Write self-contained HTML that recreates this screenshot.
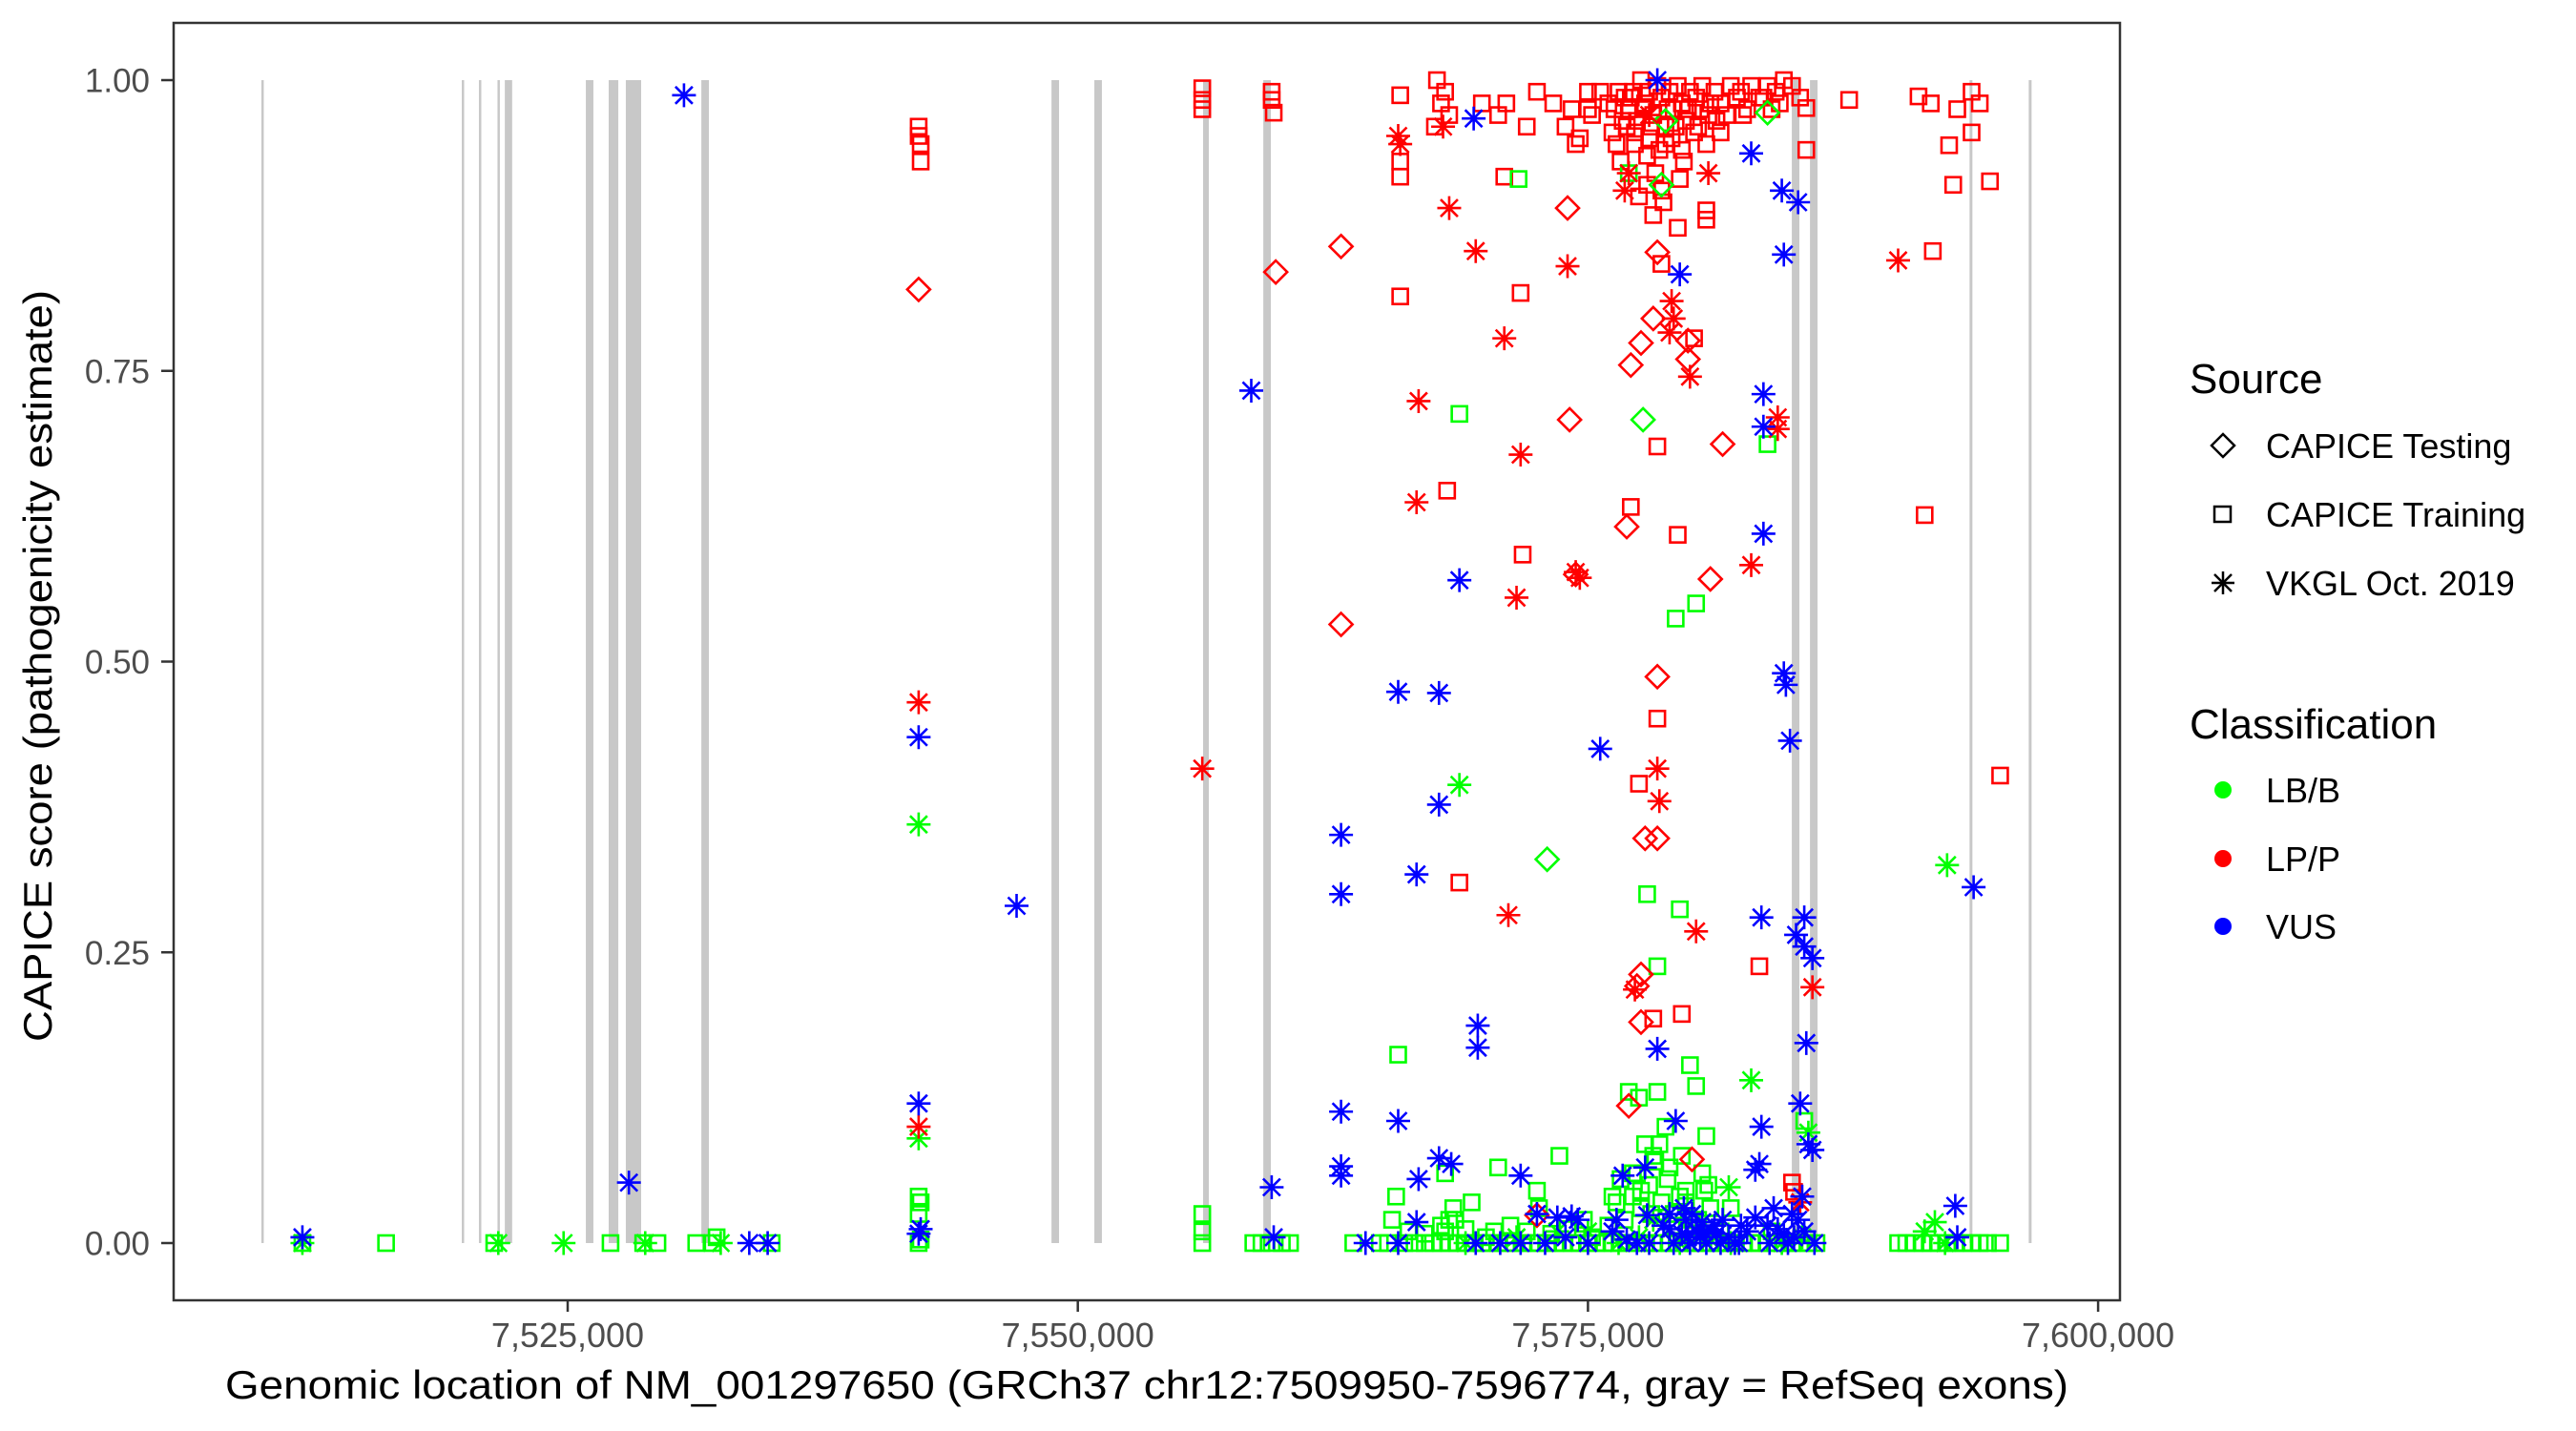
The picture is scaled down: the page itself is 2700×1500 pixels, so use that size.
<!DOCTYPE html>
<html>
<head>
<meta charset="utf-8">
<style>
html,body{margin:0;padding:0;background:#fff;}
svg{display:block;font-family:"Liberation Sans",Arial,sans-serif;}
</style>
</head>
<body>
<svg id="chart" width="2700" height="1500" viewBox="0 0 2700 1500" xmlns="http://www.w3.org/2000/svg">
  <rect x="0" y="0" width="2700" height="1500" fill="#fff"/>
  <g id="exons"></g>
  <g id="points"></g>
  <rect x="182" y="24" width="2040" height="1339" fill="none" stroke="#333" stroke-width="2.5"/>
  <g id="yaxis"></g>
  <g id="xaxis"></g>
  <text x="1202" y="1466" font-size="42" text-anchor="middle" textLength="1932" lengthAdjust="spacingAndGlyphs" fill="#000">Genomic location of NM_001297650 (GRCh37 chr12:7509950-7596774, gray = RefSeq exons)</text>
  <text transform="translate(54,698) rotate(-90)" font-size="42" text-anchor="middle" textLength="788" lengthAdjust="spacingAndGlyphs" fill="#000">CAPICE score (pathogenicity estimate)</text>
  <g id="legend">
    <text x="2295" y="412" font-size="44" fill="#000">Source</text>
    <g>
      <polygon points="2330,455 2342,467 2330,479 2318,467" fill="none" stroke="#000" stroke-width="2.5"/>
      <text x="2375" y="480" font-size="36" fill="#000">CAPICE Testing</text>
    </g>
    <g>
      <rect x="2321" y="531" width="17" height="16" fill="none" stroke="#000" stroke-width="2.5"/>
      <text x="2375" y="552" font-size="36" fill="#000">CAPICE Training</text>
    </g>
    <g stroke="#000" stroke-width="2.5">
      <line x1="2330" y1="599" x2="2330" y2="623"/>
      <line x1="2318" y1="611" x2="2342" y2="611"/>
      <line x1="2321" y1="602" x2="2339" y2="620"/>
      <line x1="2321" y1="620" x2="2339" y2="602"/>
      <text x="2375" y="624" font-size="36" fill="#000" stroke="none">VKGL Oct. 2019</text>
    </g>
    <text x="2295" y="774" font-size="44" fill="#000">Classification</text>
    <g>
      <circle cx="2330" cy="828" r="9" fill="#00ff00"/>
      <text x="2375" y="841" font-size="36" fill="#000">LB/B</text>
    </g>
    <g>
      <circle cx="2330" cy="900" r="9" fill="#ff0000"/>
      <text x="2375" y="913" font-size="36" fill="#000">LP/P</text>
    </g>
    <g>
      <circle cx="2330" cy="971" r="9" fill="#0000ff"/>
      <text x="2375" y="984" font-size="36" fill="#000">VUS</text>
    </g>
  </g>
</svg>
<script>
// ---- data ----
const xTicks = [7525000, 7550000, 7575000, 7600000];
const xTickLabels = ["7,525,000", "7,550,000", "7,575,000", "7,600,000"];
const yTicks = [0, 0.25, 0.5, 0.75, 1.0];
const yTickLabels = ["0.00", "0.25", "0.50", "0.75", "1.00"];

const exonStartKb = [7509.99, 7519.81, 7520.65, 7521.56, 7521.92, 7525.89, 7527.01, 7527.85, 7531.55, 7548.71, 7550.81, 7556.14, 7559.09, 7584.99, 7585.88, 7593.70, 7596.60];
const exonEndKb   = [7510.08, 7519.90, 7520.74, 7521.61, 7522.28, 7526.26, 7527.48, 7528.60, 7531.92, 7549.08, 7551.18, 7556.42, 7559.46, 7585.36, 7586.25, 7593.84, 7596.74];

// LP/P - CAPICE Training (squares)
const lpTrainPos = [7542.2,7542.2,7542.3,7542.3,7556.1,7556.1,7556.1,7559.5,7559.5,7559.6,7565.8,7565.8,7565.8,7565.8,7567.6,7568.0,7567.8,7568.2,7567.5,7568.1,7568.7,7569.8,7570.6,7570.9,7571.7,7571.8,7572.5,7573.3,7574.2,7575.0,7573.9,7574.4,7577.1,7577.5,7578.4,7578.4,7579.4,7578.2,7578.6,7579.4,7580.2,7580.8,7580.8,7578.2,7579.6,7583.4,7585.0,7585.1,7585.7,7585.7,7587.8,7591.2,7591.8,7591.9,7591.5,7592.7,7592.9,7593.1,7593.8,7593.8,7594.2,7594.7,7595.2,
7576.5,7576.8,7577.0,7577.2,7577.4,7577.6,7577.8,7578.0,7578.2,7578.4,7578.6,7578.8,7579.0,7579.2,7579.4,7579.6,7579.8,7580.0,7580.3,7580.6,7580.9,7581.2,7581.5,7582.0,7582.5,7583.0,7583.4,7583.8,7584.2,7584.6,7585.0,7585.4,7576.2,7576.0,7575.6,7575.2,7577.3,7577.9,7578.5,7579.1,7579.7,7580.2,7580.8,7576.6,7578.3,7579.5,7577.5,7578.7,7581.5,7576.9,7575.0,7574.6,7572.0,7571.0,
7576.3,7576.7,7577.1,7577.7,7578.1,7578.9,7579.3,7579.9,7580.5,7581.0,7581.8,7582.3,7582.8,7583.6,7584.4,7576.4,7577.3,7578.0,7578.8,7579.6,7580.4,7581.3,7582.6,7584.0,7577.9,7578.6];
const lpTrainScore = [0.96,0.952,0.945,0.93,0.993,0.983,0.975,0.99,0.983,0.972,0.987,0.93,0.917,0.814,1.0,0.99,0.98,0.97,0.96,0.647,0.31,0.98,0.97,0.917,0.817,0.592,0.99,0.98,0.975,0.99,0.96,0.945,0.633,0.395,0.685,0.451,0.609,0.884,0.842,0.873,0.778,0.888,0.88,0.193,0.197,0.238,0.052,0.044,0.94,0.976,0.983,0.986,0.98,0.853,0.626,0.944,0.91,0.975,0.99,0.955,0.98,0.913,0.402,
0.99,0.985,0.975,0.99,0.965,1.0,0.98,0.99,0.97,0.995,0.985,0.96,0.99,0.975,0.995,0.98,0.965,0.99,0.985,0.995,0.97,0.99,0.98,0.995,0.99,0.995,0.985,0.995,0.99,1.0,0.995,0.985,0.955,0.98,0.99,0.97,0.945,0.935,0.94,0.95,0.93,0.955,0.945,0.93,0.92,0.915,0.9,0.895,0.955,0.96,0.975,0.95,0.96,0.98,
0.975,0.965,0.985,0.975,0.96,0.975,0.96,0.975,0.975,0.98,0.97,0.985,0.975,0.985,0.98,0.945,0.955,0.95,0.945,0.94,0.96,0.965,0.97,0.975,0.91,0.905];

// LP/P - CAPICE Testing (diamonds)
const lpTestPos = [7542.2,7559.7,7562.9,7562.9,7574.0,7574.1,7577.1,7577.6,7578.2,7578.4,7578.4,7577.8,7578.4,7577.6,7577.4,7577.6,7577.0,7581.0,7581.6,7579.9,7579.9,7572.5,7580.1,7576.9,7574.4];
const lpTestScore = [0.82,0.835,0.857,0.532,0.89,0.708,0.755,0.774,0.795,0.852,0.487,0.348,0.348,0.231,0.221,0.19,0.118,0.571,0.687,0.76,0.776,0.024,0.072,0.616,0.575];

// LP/P - VKGL (stars)
const lpVkglPos = [7542.2,7542.2,7556.1,7565.7,7565.8,7566.7,7566.6,7568.2,7569.5,7570.9,7571.7,7571.5,7571.1,7574.0,7574.4,7574.6,7577.0,7576.8,7578.4,7578.5,7579.1,7579.2,7579.0,7580.0,7580.3,7577.3,7580.9,7583.0,7584.3,7584.3,7586.0,7590.2,7585.4,7578.0,7567.9];
const lpVkglScore = [0.465,0.10,0.408,0.952,0.945,0.724,0.637,0.89,0.853,0.778,0.678,0.555,0.282,0.84,0.577,0.572,0.92,0.905,0.408,0.38,0.81,0.795,0.783,0.745,0.268,0.218,0.92,0.583,0.71,0.70,0.22,0.845,0.035,0.97,0.96];

// VUS - VKGL (stars)
const vusVkglPos = [7512.0,7528.0,7530.7,7533.9,7534.8,7542.2,7542.2,7542.3,7542.2,7547.0,7558.5,7559.5,7559.6,7562.9,7562.9,7562.9,7562.9,7562.9,7564.1,7565.7,7565.7,7565.7,7567.7,7567.7,7566.6,7566.7,7568.7,7569.6,7569.6,7567.7,7568.3,7566.6,7569.4,7569.5,7570.7,7571.7,7571.7,7572.5,7573.5,7574.2,7574.5,7575.6,7576.7,7577.8,7577.9,7578.4,7578.4,7579.5,7579.3,7578.0,7579.0,7579.6,7580.0,7580.5,7581.5,7582.5,7583.0,7583.6,7583.6,7583.6,7583.5,7583.5,7583.4,7583.2,7583.2,7584.5,7585.3,7584.6,7584.6,7584.7,7584.9,7585.6,7585.2,7585.6,7586.0,7585.7,7585.4,7585.8,7586.0,7585.5,7585.3,7585.6,7586.1,7593.0,7593.1,7593.9,
7572.9,7573.9,7575.0,7576.2,7576.9,7577.4,7578.7,7579.2,7579.8,7580.3,7580.8,7581.2,7581.9,7582.2,7582.8,7583.9,7584.3,7584.8,7585.1,7579.7,7580.1,7580.6,7581.3,7584.1,7576.4,
7579.0,7579.9,7580.7,7581.6,7582.4,7583.8,7584.6,7585.0];
const vusVkglScore = [0.005,0.052,0.987,0.0,0.0,0.435,0.12,0.012,0.008,0.29,0.733,0.048,0.005,0.351,0.30,0.113,0.066,0.058,0.0,0.474,0.105,0.0,0.473,0.377,0.317,0.055,0.57,0.187,0.168,0.073,0.068,0.018,0.967,0.0,0.0,0.058,0.0,0.025,0.022,0.023,0.02,0.425,0.058,0.065,0.024,0.167,1.0,0.833,0.105,0.0,0.012,0.008,0.0,0.005,0.0,0.015,0.937,0.73,0.702,0.61,0.28,0.10,0.068,0.063,0.022,0.905,0.895,0.85,0.49,0.48,0.432,0.28,0.265,0.255,0.245,0.172,0.12,0.085,0.08,0.04,0.02,0.01,0.0,0.032,0.005,0.306,
0.0,0.005,0.0,0.01,0.003,0.0,0.015,0.0,0.02,0.01,0.0,0.015,0.005,0.0,0.01,0.0,0.012,0.0,0.005,0.03,0.025,0.018,0.008,0.03,0.02,
0.025,0.005,0.01,0.02,0.0,0.015,0.008,0.025];

// LB/B - CAPICE Training (squares)
const lbTrainPos = [7512.0,7516.1,7521.4,7527.1,7528.7,7529.4,7531.3,7532.1,7532.3,7535.0,7542.2,7542.3,7542.2,7542.2,7542.3,7556.1,7556.1,7556.1,7565.7,7565.6,7565.4,7568.7,7568.0,7568.5,7569.3,7570.6,7572.5,7572.6,7573.6,7571.6,7577.0,7579.3,7580.3,7577.9,7578.4,7579.5,7583.8,7580.0,7580.3,7577.0,7577.5,7578.4,7580.8,7579.6,7578.5,7578.2,
7558.6,7559.0,7559.5,7560.0,7560.4,7563.5,7564.8,7565.2,7566.0,7566.5,7567.0,7567.4,7567.8,7568.2,7568.6,7569.0,7569.4,7569.8,7570.2,7570.6,7571.0,7571.4,7571.8,7572.2,7572.6,7573.0,7573.4,7573.8,7574.2,7574.6,7575.0,7575.4,7575.8,7576.2,7576.6,7577.0,7577.4,7577.8,7578.2,7578.6,7579.0,7579.4,7579.8,7580.2,7580.6,7581.0,7581.4,7581.8,7582.2,7582.6,7583.0,7583.4,7583.8,7584.2,7584.6,7585.0,7585.4,7585.8,7586.2,7590.2,7590.6,7591.0,7591.4,7591.8,7592.2,7592.6,7593.0,7593.4,7593.8,7594.2,7594.6,7595.2,
7567.8,7568.2,7568.0,7576.8,7577.2,7577.6,7578.0,7578.6,7579.2,7579.8,7580.4,7581.0,7577.4,7578.3,7579.0,7580.6,7576.6,7577.8,7578.8,7579.8,7585.6,7584.0,
7566.2,7567.0,7569.0,7570.0,7571.2,7572.0,7573.2,7574.0,7575.2,7576.0,7576.4,7577.6,7578.1,7578.9,7579.5,7580.1,7580.9,7581.5,7582.0,7568.4,7570.4,7574.8,7576.2,7577.2,7579.1,7580.7];
const lbTrainScore = [0.0,0.0,0.0,0.0,0.0,0.0,0.0,0.0,0.005,0.0,0.04,0.035,0.025,0.0,0.003,0.025,0.01,0.0,0.162,0.04,0.02,0.713,0.06,0.02,0.035,0.065,0.045,0.03,0.075,0.915,0.92,0.537,0.55,0.30,0.238,0.287,0.687,0.153,0.135,0.13,0.125,0.13,0.092,0.075,0.085,0.075,
0,0,0,0,0,0,0,0,0,0,0,0,0,0,0,0,0,0,0,0,0,0,0,0,0,0,0,0,0,0,0,0,0,0,0,0,0,0,0,0,0,0,0,0,0,0,0,0,0,0,0,0,0,0,0,0,0,0,0,0,0,0,0,0,0,0,0,0,0,0,0,0,
0.015,0.02,0.01,0.02,0.04,0.03,0.05,0.035,0.025,0.045,0.02,0.03,0.06,0.07,0.065,0.06,0.055,0.085,0.10,0.035,0.105,0.01,
0.01,0.008,0.012,0.005,0.015,0.01,0.008,0.012,0.005,0.015,0.035,0.045,0.025,0.055,0.04,0.02,0.05,0.01,0.03,0.03,0.01,0.02,0.04,0.06,0.015,0.045];

// LB/B - CAPICE Testing (diamonds)
const lbTestPos = [7577.7,7573.0,7583.8,7578.8,7578.6];
const lbTestScore = [0.708,0.33,0.972,0.965,0.91];

// LB/B - VKGL (stars)
const lbVkglPos = [7512.0,7521.6,7524.8,7528.8,7542.2,7542.2,7568.7,7583.0,7581.9,7592.6,7592.0,7585.8,7569.0,7571.5,7575.0,7576.5,7577.5,7579.5,7581.0,7582.0,7584.5,7585.5,7591.5,7592.5,7532.5,7573.5,7578.2,7580.4];
const lbVkglScore = [0.0,0.0,0.0,0.0,0.36,0.09,0.394,0.14,0.048,0.325,0.018,0.095,0.0,0.005,0.01,0.0,0.005,0.0,0.003,0.0,0.0,0.005,0.01,0.0,0.0,0.01,0.02,0.015];

// ---- scales ----
const X0 = 595, PX_PER_BP = 534.7 / 25000;
function xScale(bp){ return X0 + (bp - 7525000) * PX_PER_BP; }
const Y0 = 1303, Y1 = 84;
function yScale(s){ return Y0 - s * (Y0 - Y1); }
const NS = "http://www.w3.org/2000/svg";
function mk(tag, attrs, parent){
  const e = document.createElementNS(NS, tag);
  for (const k in attrs) e.setAttribute(k, attrs[k]);
  parent.appendChild(e);
  return e;
}

// exons
const gEx = document.getElementById('exons');
for (let i = 0; i < exonStartKb.length; i++){
  const x1 = xScale(exonStartKb[i]*1000), x2 = xScale(exonEndKb[i]*1000);
  const r = mk('rect', {x: x1, y: yScale(1), width: Math.max(2.5, x2-x1), height: yScale(0)-yScale(1), fill: '#c8c8c8'}, gEx);
  
  
}

// axes
const gy = document.getElementById('yaxis');
yTicks.forEach((t, i) => {
  const y = yScale(t);
  mk('line', {x1: 169, x2: 182, y1: y, y2: y, stroke: '#333', 'stroke-width': 2.5}, gy);
  const tx = mk('text', {x: 157, y: y + 12.5, 'font-size': 35, 'text-anchor': 'end', fill: '#4d4d4d'}, gy);
  tx.textContent = yTickLabels[i];
  
  
});
const gx = document.getElementById('xaxis');
xTicks.forEach((t, i) => {
  const x = xScale(t);
  mk('line', {x1: x, x2: x, y1: 1363, y2: 1375, stroke: '#333', 'stroke-width': 2.5}, gx);
  const tx = mk('text', {x: x, y: 1412, 'font-size': 36, 'text-anchor': 'middle', fill: '#4d4d4d'}, gx);
  tx.textContent = xTickLabels[i];
  
  
});

// points
const gp = document.getElementById('points');
function square(x, y, c){
  const e = mk('rect', {x: x-8, y: y-8, width: 16, height: 16, fill: 'none', stroke: c, 'stroke-width': 2.6}, gp);
  
  
}
function diamond(x, y, c){
  const e = mk('polygon', {points: `${x},${y-12} ${x+12},${y} ${x},${y+12} ${x-12},${y}`, fill: 'none', stroke: c, 'stroke-width': 2.6}, gp);
  
  
}
function star(x, y, c){
  const r = 12.5, d = 9;
  const e = mk('path', {d: `M${x},${y-r}V${y+r}M${x-r},${y}H${x+r}M${x-d},${y-d}L${x+d},${y+d}M${x-d},${y+d}L${x+d},${y-d}`, fill: 'none', stroke: c, 'stroke-width': 2.6}, gp);
  
  
}
function draw(pos, score, fn, color){
  for (let i = 0; i < pos.length; i++) fn(xScale(pos[i]*1000), yScale(score[i]), color);
}
const RED = '#ff0000', GREEN = '#00ff00', BLUE = '#0000ff';
draw(lpTrainPos, lpTrainScore, square, RED);
draw(lbTrainPos, lbTrainScore, square, GREEN);
draw(lpTestPos, lpTestScore, diamond, RED);
draw(lbTestPos, lbTestScore, diamond, GREEN);
draw(lbVkglPos, lbVkglScore, star, GREEN);
draw(lpVkglPos, lpVkglScore, star, RED);
draw(vusVkglPos, vusVkglScore, star, BLUE);
</script>
</body>
</html>
